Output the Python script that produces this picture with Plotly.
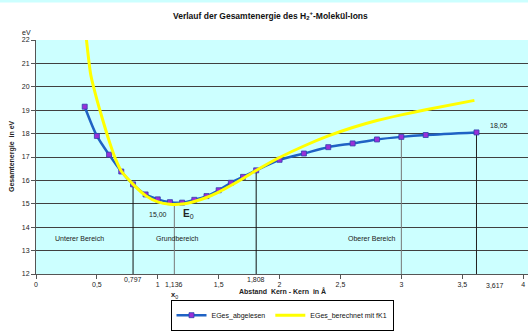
import plotly.graph_objects as go

# ---- data ----
x_read = [0.4, 0.5, 0.6, 0.7, 0.797, 0.9, 1.0, 1.1, 1.2, 1.3, 1.4, 1.5, 1.6, 1.7, 1.808,
          2.0, 2.2, 2.4, 2.6, 2.8, 3.0, 3.2, 3.617]
e_read = [19.15, 17.9, 17.1, 16.38, 15.83, 15.4, 15.19, 15.07, 15.05, 15.17, 15.33, 15.58, 15.9,
          16.15, 16.43, 16.88, 17.15, 17.42, 17.58, 17.75, 17.86, 17.94, 18.05]

x_calc = [0.4, 0.45, 0.5, 0.55, 0.6, 0.65, 0.7, 0.8, 0.9, 1.0, 1.1, 1.2, 1.3, 1.4, 1.5, 1.6,
          1.7, 1.8, 1.9, 2.0, 2.2, 2.4, 2.6, 2.8, 3.0, 3.2, 3.6]
e_calc = [22.7, 20.5, 19.45, 18.55, 17.7, 16.95, 16.4, 15.82, 15.35, 15.08, 14.98, 14.99, 15.1,
          15.27, 15.5, 15.78, 16.08, 16.4, 16.7, 16.98, 17.47, 17.9, 18.26, 18.56, 18.8, 19.02, 19.42]

mark_x = [0.797, 1.136, 1.808, 3.0, 3.617]
mark_top = [15.83, 15.0, 16.43, 17.86, 18.05]
mark_col = ["#111111", "#777777", "#111111", "#777777", "#222222"]
mark_lbl = ["0,797", "1,136", "1,808", None, "3,617"]
mark_lbl_y = [-0.025, -0.046, -0.025, None, -0.05]

x_ticks = [0, 0.5, 1, 1.5, 2, 2.5, 3, 3.5, 4]
y_ticks = list(range(12, 23))

regions = [("Unterer Bereich", 0.36), ("Grundbereich", 1.16), ("Oberer Bereich", 2.76)]

FONT = "Liberation Sans, Arial, sans-serif"

fig = go.Figure()

# vertical marker lines
for xv, yt, c in zip(mark_x, mark_top, mark_col):
    fig.add_trace(go.Scatter(x=[xv, xv], y=[12, yt], mode="lines",
                             line=dict(color=c, width=1), showlegend=False, hoverinfo="skip"))

fig.add_trace(go.Scatter(
    x=x_read, y=e_read, mode="lines+markers", name="EGes_abgelesen",
    line=dict(color="#1f62c4", width=2.5, shape="spline", smoothing=0.8),
    marker=dict(symbol="square", size=5, color="#9a2fd8", line=dict(color="#3040b0", width=0.8)),
))
fig.add_trace(go.Scatter(
    x=x_calc, y=e_calc, mode="lines", name="EGes_berechnet mit fK1",
    line=dict(color="#ffff00", width=3, shape="spline", smoothing=0.6),
))

ann = []
ann.append(dict(text="<b>Verlauf der Gesamtenergie des H<sub>2</sub><sup>+</sup>-Molekül-Ions</b>",
                xref="paper", yref="paper", x=0.476, y=1.105, showarrow=False,
                font=dict(size=8.5, family=FONT, color="#111"), xanchor="center", yanchor="middle"))
ann.append(dict(text="eV", xref="paper", yref="paper", x=-0.0325, y=1.054, showarrow=False,
                font=dict(size=7, family=FONT, color="#222")))
ann.append(dict(text="<b>Gesamtenergie  in eV</b>", xref="paper", yref="paper", x=-0.05, y=0.506,
                xanchor="center", textangle=-90, showarrow=False, font=dict(size=7, family=FONT, color="#222")))
for t, xv in regions:
    ann.append(dict(text=t, x=xv, y=13.53, showarrow=False, font=dict(size=7, family=FONT, color="#222")))
ann.append(dict(text="15,00", x=1.0, y=14.53, showarrow=False, font=dict(size=7, family=FONT, color="#222")))
ann.append(dict(text="<b>E</b><sub>0</sub>", x=1.25, y=14.57, showarrow=False,
                font=dict(size=10, family=FONT, color="#222")))
ann.append(dict(text="18,05", x=3.80, y=18.34, showarrow=False, font=dict(size=7, family=FONT, color="#222")))
for xv, lb, ly in zip(mark_x, mark_lbl, mark_lbl_y):
    if lb:
        right = xv > 3.5
        ann.append(dict(text=lb, x=(xv + 0.07) if right else xv, xref="x", yref="paper", y=ly,
                        yanchor="middle", xanchor="left" if right else "center", showarrow=False,
                        borderpad=0, font=dict(size=7, family=FONT, color="#222")))
ann.append(dict(text="<b>x</b><sub>0</sub>", x=1.136, xref="x", yref="paper", y=-0.115, showarrow=False,
                borderpad=0, font=dict(size=7.5, family=FONT, color="#222")))
ann.append(dict(text="<b>Abstand  Kern - Kern  in Å</b>", x=0.5, xref="paper", yref="paper", y=-0.1,
                showarrow=False, font=dict(size=7, family=FONT, color="#222")))

fig.update_layout(
    width=528, height=331,
    margin=dict(l=36, r=0, t=40, b=52),
    paper_bgcolor="white", plot_bgcolor="#ccffff",
    separators=", ",
    font=dict(family=FONT, size=7, color="#222"),
    annotations=ann,
    showlegend=True,
    legend=dict(orientation="h", x=0.5, xanchor="center", y=-0.176, yanchor="middle",
                bordercolor="#000", borderwidth=1, bgcolor="white",
                font=dict(size=7, family=FONT, color="#111"), itemwidth=30),
    shapes=[dict(type="rect", xref="paper", yref="paper", x0=-0.1, x1=1.1, y0=1.16, y1=1.2,
                 fillcolor="#ccffff", line=dict(width=0), layer="above")],
)
fig.update_xaxes(range=[0, 4.04], tickvals=x_ticks, ticktext=[str(v).replace(".", ",") for v in x_ticks],
                 showgrid=False, zeroline=False, showline=True, linecolor="#555", linewidth=1,
                 ticks="outside", ticklen=4, tickcolor="#555", tickfont=dict(size=7))
fig.update_yaxes(range=[12, 22], tickvals=y_ticks, showgrid=True, gridcolor="#404040", gridwidth=1,
                 zeroline=False, showline=True, linecolor="#555", linewidth=1,
                 ticks="outside", ticklen=4, tickcolor="#555", tickfont=dict(size=7))

fig.write_html("out.html")
